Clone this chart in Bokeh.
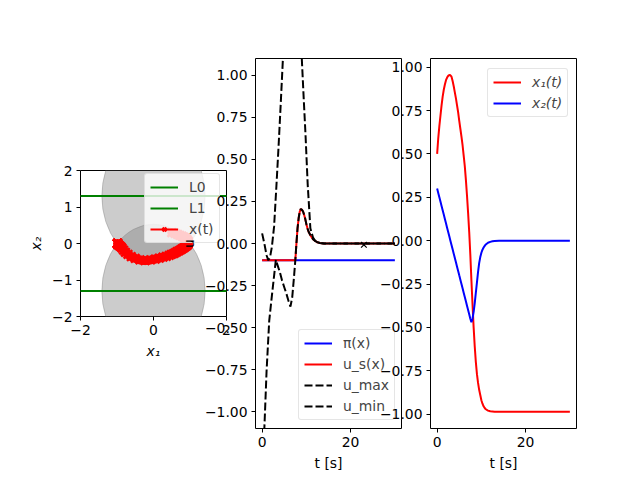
from bokeh.plotting import figure
from bokeh.models import Legend, LegendItem, FixedTicker, GridBox, Range1d, Column
from bokeh.embed import file_html
from bokeh.resources import INLINE

# ---------------- data ----------------
# state trajectory
t_state = [0, 0.25, 0.5, 0.75, 1, 1.25, 1.5, 1.75, 2, 2.25, 2.5, 2.75, 3, 3.25, 3.5, 3.75,
           4, 4.25, 4.5, 4.75, 5, 5.25, 5.5, 5.75, 6, 6.25, 6.5, 6.75, 7, 7.25, 7.5, 7.75,
           8, 8.25, 8.5, 8.75, 9, 9.25, 9.5, 9.75, 10, 10.25, 10.5, 10.75, 11, 11.5, 12, 12.5,
           13, 14, 16, 18, 20, 22, 24, 26, 28, 30]
x1_vals = [0.50, 0.59, 0.66, 0.72, 0.78, 0.83, 0.87, 0.90, 0.925, 0.94, 0.95, 0.955, 0.953, 0.945, 0.92, 0.89,
           0.855, 0.82, 0.78, 0.74, 0.69, 0.645, 0.60, 0.55, 0.49, 0.43, 0.35, 0.26, 0.16, 0.05, -0.08, -0.23,
           -0.37, -0.50, -0.61, -0.70, -0.77, -0.82, -0.86, -0.89, -0.92, -0.94, -0.955, -0.965, -0.972, -0.98, -0.984, -0.985,
           -0.986, -0.986, -0.986, -0.986, -0.986, -0.986, -0.986, -0.986, -0.986, -0.986]
x2_vals = [0.30, 0.275, 0.25, 0.225, 0.20, 0.175, 0.15, 0.125, 0.10, 0.075, 0.05, 0.025, 0.0, -0.025, -0.05, -0.075,
           -0.10, -0.125, -0.15, -0.175, -0.20, -0.225, -0.25, -0.275, -0.30, -0.325, -0.35, -0.375, -0.40, -0.425, -0.45, -0.47,
           -0.45, -0.41, -0.36, -0.30, -0.24, -0.18, -0.13, -0.095, -0.07, -0.052, -0.04, -0.03, -0.022, -0.012, -0.007, -0.004,
           -0.002, 0.0, 0.0, 0.0, 0.0, 0.0, 0.0, 0.0, 0.0, 0.0]

# safe-set ellipses and boundary lines (left panel)
ell_x = [0.0, 0.0]
ell_y = [1.3, -1.3]
ell_w = [2.83, 2.83]
ell_h = [3.66, 3.66]
line_x = [-3.0, 3.0]
L0_y = [1.3, 1.3]
L1_y = [-1.3, -1.3]

# controls (middle panel)
t_pi = [0, 30]
pi_vals = [-0.1, -0.1]
t_us = [0, 7.5, 7.75, 8.0, 8.25, 8.5, 8.75, 9.0, 9.25, 9.5, 9.75, 10.0, 10.25, 10.5, 11.0, 11.5, 12.0, 12.5, 13.0, 14, 30]
us_vals = [-0.1, -0.1, 0.0, 0.09, 0.15, 0.19, 0.205, 0.2, 0.19, 0.17, 0.145, 0.115, 0.09, 0.07, 0.045, 0.025, 0.015, 0.007, 0.003, 0.0, 0.0]
t_umax = [0, 0.5, 1.0, 1.4, 1.8, 2.2, 2.7, 3.2, 3.7, 4.2, 4.7, 5.5, 6.0, 6.5, 7.0, 7.5, 8.0, 8.5, 9.0, 9.4,
          9.8, 10.3, 10.9, 11.5, 12.0, 13.0, 14, 30]
umax_vals = [0.06, 0.0, -0.07, -0.10, -0.08, -0.02, 0.10, 0.33, 0.57, 0.83, 1.10, 1.5, 1.75, 1.9, 1.95, 1.85, 1.6, 1.35, 1.08, 0.86,
             0.65, 0.35, 0.09, 0.035, 0.016, 0.003, 0.0, 0.0]
t_umin = [0, 0.5, 1.0, 1.6, 2.0, 2.5, 3.1, 3.5, 4.0, 4.5, 5.0, 5.5, 6.0, 6.4, 6.8, 7.2, 7.5, 7.75, 8.0, 8.25,
          8.5, 8.75, 9.0, 9.25, 9.5, 9.75, 10.0, 10.25, 10.5, 11.0, 11.5, 12.0, 12.5, 13.0, 14, 30]
umin_vals = [-1.45, -1.1, -0.76, -0.46, -0.36, -0.24, -0.097, -0.13, -0.17, -0.22, -0.26, -0.30, -0.345, -0.375, -0.32, -0.2, -0.1, 0.0, 0.09, 0.15,
             0.19, 0.205, 0.2, 0.19, 0.17, 0.145, 0.115, 0.09, 0.07, 0.045, 0.025, 0.015, 0.007, 0.003, 0.0, 0.0]
mark_t = [23.0]
mark_u = [-0.008]

# ticks
xy_ticks = [-2, -1, 0, 1, 2]
xy_labels = ["\u22122", "\u22121", "0", "1", "2"]
x1_ticks = [-2, 0, 2]
x1_labels = ["\u22122", "0", "2"]
u_ticks = [-1.0, -0.75, -0.5, -0.25, 0.0, 0.25, 0.5, 0.75, 1.0]
u_labels = ["\u22121.00", "\u22120.75", "\u22120.50", "\u22120.25", "0.00", "0.25", "0.50", "0.75", "1.00"]
t_ticks = [0, 20]
t_labels = ["0", "20"]

FONT = "DejaVu Sans"
FS = "13.9px"
W = 632


def make_fig(left, top, fw, fh, xr, yr, bottom):
    p = figure(frame_width=fw, frame_height=fh, x_range=Range1d(*xr), y_range=Range1d(*yr),
               min_border_left=left, min_border_right=W - left - fw,
               min_border_top=top, min_border_bottom=bottom,
               toolbar_location=None, tools="", output_backend="svg")
    p.background_fill_color = "white"
    p.border_fill_alpha = 0
    p.outline_line_color = "black"
    p.outline_line_width = 1
    p.outline_line_alpha = 1
    p.xgrid.visible = False
    p.ygrid.visible = False
    for ax in (p.xaxis[0], p.yaxis[0]):
        ax.axis_line_color = None
        ax.major_tick_out = 4
        ax.major_tick_in = 0
        ax.minor_tick_line_color = None
        ax.major_tick_line_color = "black"
        ax.major_label_text_font = FONT
        ax.major_label_text_font_size = FS
        ax.major_label_text_color = "black"
        ax.axis_label_text_font = FONT
        ax.axis_label_text_font_size = FS
        ax.axis_label_text_font_style = "normal"
        ax.axis_label_text_color = "black"
        ax.major_label_standoff = 4
        ax.axis_label_standoff = 5
    return p


def set_ticks(ax, ticks, labels):
    ax.ticker = FixedTicker(ticks=ticks)
    ax.major_label_overrides = {float(k): v for k, v in zip(ticks, labels)}


def style_legend(lg):
    lg.label_text_font = FONT
    lg.label_text_font_size = FS
    lg.border_line_color = "#cccccc"
    lg.border_line_width = 1
    lg.background_fill_color = "white"
    lg.background_fill_alpha = 0.8
    lg.padding = 5
    lg.margin = 0
    lg.spacing = 5
    lg.glyph_width = 28
    lg.glyph_height = 14
    lg.label_height = 14
    lg.label_standoff = 11
    if "border_radius" in lg.properties():
        lg.border_radius = 3


# ---------------- panel 1: phase plane ----------------
p1 = make_fig(80, 170, 146, 146, (-2, 2), (-2, 2), 150)
set_ticks(p1.xaxis[0], x1_ticks, x1_labels)
set_ticks(p1.yaxis[0], xy_ticks, xy_labels)
p1.xaxis[0].axis_label = "x\u2081"
p1.yaxis[0].axis_label = "x\u2082"
p1.xaxis[0].axis_label_text_font_style = "italic"
p1.yaxis[0].axis_label_text_font_style = "italic"
p1.ellipse(x=ell_x, y=ell_y, width=ell_w, height=ell_h, fill_color="gray", fill_alpha=0.4,
           line_color="gray", line_alpha=0.4, line_width=1)
rL0 = p1.line(line_x, L0_y, line_color="#008000", line_width=2)
rL1 = p1.line(line_x, L1_y, line_color="#008000", line_width=2)
# the densely sampled x-markers in the original merge into a solid band
p1.line(x1_vals, x2_vals, line_color="red", line_width=9, line_join="round", line_cap="round")
rtl = p1.line(x1_vals, x2_vals, line_color="red", line_width=2)
rts = p1.scatter(x1_vals, x2_vals, marker="x", size=12, line_color="red", line_width=2.5)
lg1 = Legend(items=[LegendItem(label="L0", renderers=[rL0]),
                    LegendItem(label="L1", renderers=[rL1]),
                    LegendItem(label="x(t)", renderers=[rtl, rts])],
             location=(64, 73))
style_legend(lg1)
p1.add_layout(lg1)

# ---------------- panel 2: controls ----------------
p2 = make_fig(255, 58, 146, 370, (-1.5, 31.5), (-1.1, 1.1), 44)
set_ticks(p2.xaxis[0], t_ticks, t_labels)
set_ticks(p2.yaxis[0], u_ticks, u_labels)
p2.xaxis[0].axis_label = "t [s]"
p2.yaxis[0].axis_label = "u"
rpi = p2.line(t_pi, pi_vals, line_color="blue", line_width=2)
rus = p2.line(t_us, us_vals, line_color="red", line_width=2)
rmax = p2.line(t_umax, umax_vals, line_color="black", line_width=2, line_dash="8 3")
rmin = p2.line(t_umin, umin_vals, line_color="black", line_width=2, line_dash="8 3")
p2.scatter(mark_t, mark_u, marker="x", size=8, line_color="black", line_width=1.2)
lg2 = Legend(items=[LegendItem(label="\u03c0(x)", renderers=[rpi]),
                    LegendItem(label="u_s(x)", renderers=[rus]),
                    LegendItem(label="u_max", renderers=[rmax]),
                    LegendItem(label="u_min", renderers=[rmin])],
             location=(43, 8))
style_legend(lg2)
p2.add_layout(lg2)

# ---------------- panel 3: states ----------------
p3 = make_fig(430, 58, 146, 370, (-1.5, 31.5), (-1.083, 1.050), 44)
set_ticks(p3.xaxis[0], t_ticks, t_labels)
set_ticks(p3.yaxis[0], u_ticks, u_labels)
p3.xaxis[0].axis_label = "t [s]"
r1 = p3.line(t_state, x1_vals, line_color="red", line_width=2)
r2 = p3.line(t_state, x2_vals, line_color="blue", line_width=2)
lg3 = Legend(items=[LegendItem(label="x\u2081(t)", renderers=[r1]),
                    LegendItem(label="x\u2082(t)", renderers=[r2])],
             location=(57, 311))
style_legend(lg3)
lg3.label_text_font_style = "italic"
p3.add_layout(lg3)

# stack the three panels in one grid cell (each wrapped so the frames are not aligned)
c1 = Column(children=[p1])
c2 = Column(children=[p2])
c3 = Column(children=[p3])
root = GridBox(children=[(c1, 0, 0), (c2, 0, 0), (c3, 0, 0)])
open("out.html", "w").write(file_html(root, INLINE))
